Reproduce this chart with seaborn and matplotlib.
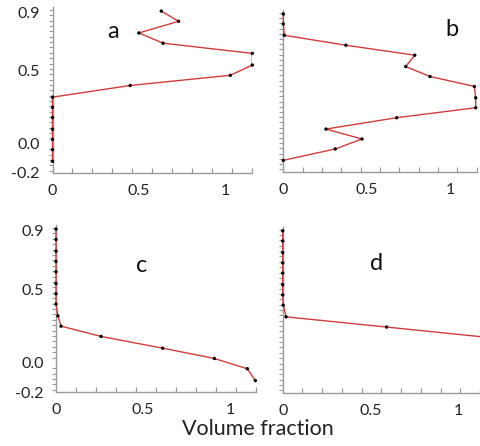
import matplotlib
matplotlib.use("Agg")
import matplotlib.pyplot as plt
import seaborn as sns
import pandas as pd
from matplotlib.ticker import MultipleLocator
from matplotlib.transforms import Bbox, TransformedBbox

sns.set_style("ticks")
plt.rcParams['font.family'] = ['Lato', 'DejaVu Sans']

# depth positions (shared by all panels), bottom -> top
depth = [-0.12, -0.04, 0.03, 0.10, 0.18, 0.25, 0.32, 0.40, 0.47, 0.54, 0.62, 0.69, 0.76, 0.84, 0.91]

frac_a = [0, 0, 0, 0, 0, 0, 0, 0.45, 1.03, 1.157, 1.157, 0.64, 0.50, 0.73, 0.63]
frac_b = [0, 0.31, 0.47, 0.255, 0.677, 1.149, 1.149, 1.141, 0.876, 0.731, 0.785, 0.374, 0.006, 0, 0]
frac_c = [1.145, 1.099, 0.91, 0.613, 0.259, 0.029, 0.011, 0, 0, 0, 0, 0, 0, 0, 0]
frac_d = [1.9, 1.7, 1.5, 1.35, 1.16, 0.592, 0.019, 0.003, 0, 0, 0, 0, 0, 0, 0]

panel_labels = ["a", "b", "c", "d"]
xticks = [0, 0.5, 1]
xtick_labels = ["0", "0.5", "1"]
yticks = [-0.2, 0.0, 0.5, 0.9]
ytick_labels = ["-0.2", "0.0", "0.5", "0.9"]

W, H = 480, 446
fig = plt.figure(figsize=(W / 100, H / 100), dpi=100)

def box(l, b, r, t):
    return [l / W, 1 - b / H, (r - l) / W, (b - t) / H]

specs = [
    (box(52.5, 173, 252.3, 7), frac_a, 1.157, True, (113, 31)),
    (box(283.3, 171.7, 476.7, 10), frac_b, 1.155, False, (452, 29)),
    (box(56, 392.3, 256, 225), frac_c, 1.149, True, (142, 265)),
    (box(282.7, 392.7, 480, 226.7), frac_d, 1.124, False, (377, 263)),
]

line_col = "#d23c3c"
spine_col = "#9a9a9a"

for (rect, xs, xmax, show_y, (lx, ly)), lab in zip(specs, panel_labels):
    ax = fig.add_axes(rect)
    df = pd.DataFrame({"frac": xs, "depth": depth})
    sns.lineplot(data=df, x="frac", y="depth", sort=False, estimator=None,
                 ax=ax, color=line_col, linewidth=1.0, zorder=3)
    clip = TransformedBbox(Bbox([[-0.03, -0.05], [1.0, 1.05]]), ax.transAxes)
    for ln in ax.get_lines():
        ln.set_clip_box(clip)
    vis = df[df["frac"] <= xmax * 1.005]
    sns.scatterplot(data=vis, x="frac", y="depth", ax=ax, color="black",
                    s=6, edgecolor="none", clip_on=False, zorder=5)
    ax.set_xlim(0, xmax)
    ax.set_ylim(-0.2, 0.938)
    for s in ["top", "right"]:
        ax.spines[s].set_visible(False)
    for s in ["left", "bottom"]:
        ax.spines[s].set_color(spine_col)
        ax.spines[s].set_linewidth(1.0)
    ax.set_xlabel("")
    ax.set_ylabel("")
    ax.set_xticks(xticks)
    ax.set_xticklabels(xtick_labels)
    if show_y:
        ax.set_yticks(yticks)
        ax.set_yticklabels(ytick_labels)
    else:
        ax.set_yticks([])
    ax.xaxis.set_minor_locator(MultipleLocator(xmax / 10))
    ax.yaxis.set_minor_locator(MultipleLocator(0.0367))
    ax.tick_params(axis="both", which="major", length=0, labelsize=11.5,
                   labelcolor="#222222")
    ax.tick_params(axis="x", which="major", pad=8)
    ax.tick_params(axis="y", which="major", pad=9)
    ax.tick_params(axis="x", which="minor", direction="in", length=3.5,
                   color=spine_col, width=0.9, bottom=True)
    ax.tick_params(axis="y", which="minor", direction="out", length=3,
                   color=spine_col, width=0.8, left=True)
    fig.text(lx / W, 1 - ly / H, lab, fontsize=17, ha="center", va="center",
             color="#111111")

fig.text(258 / W, 1 - 429 / H, "Volume fraction", fontsize=15.5,
         ha="center", va="center", color="#222222")

fig.savefig("out.png", dpi=100)
